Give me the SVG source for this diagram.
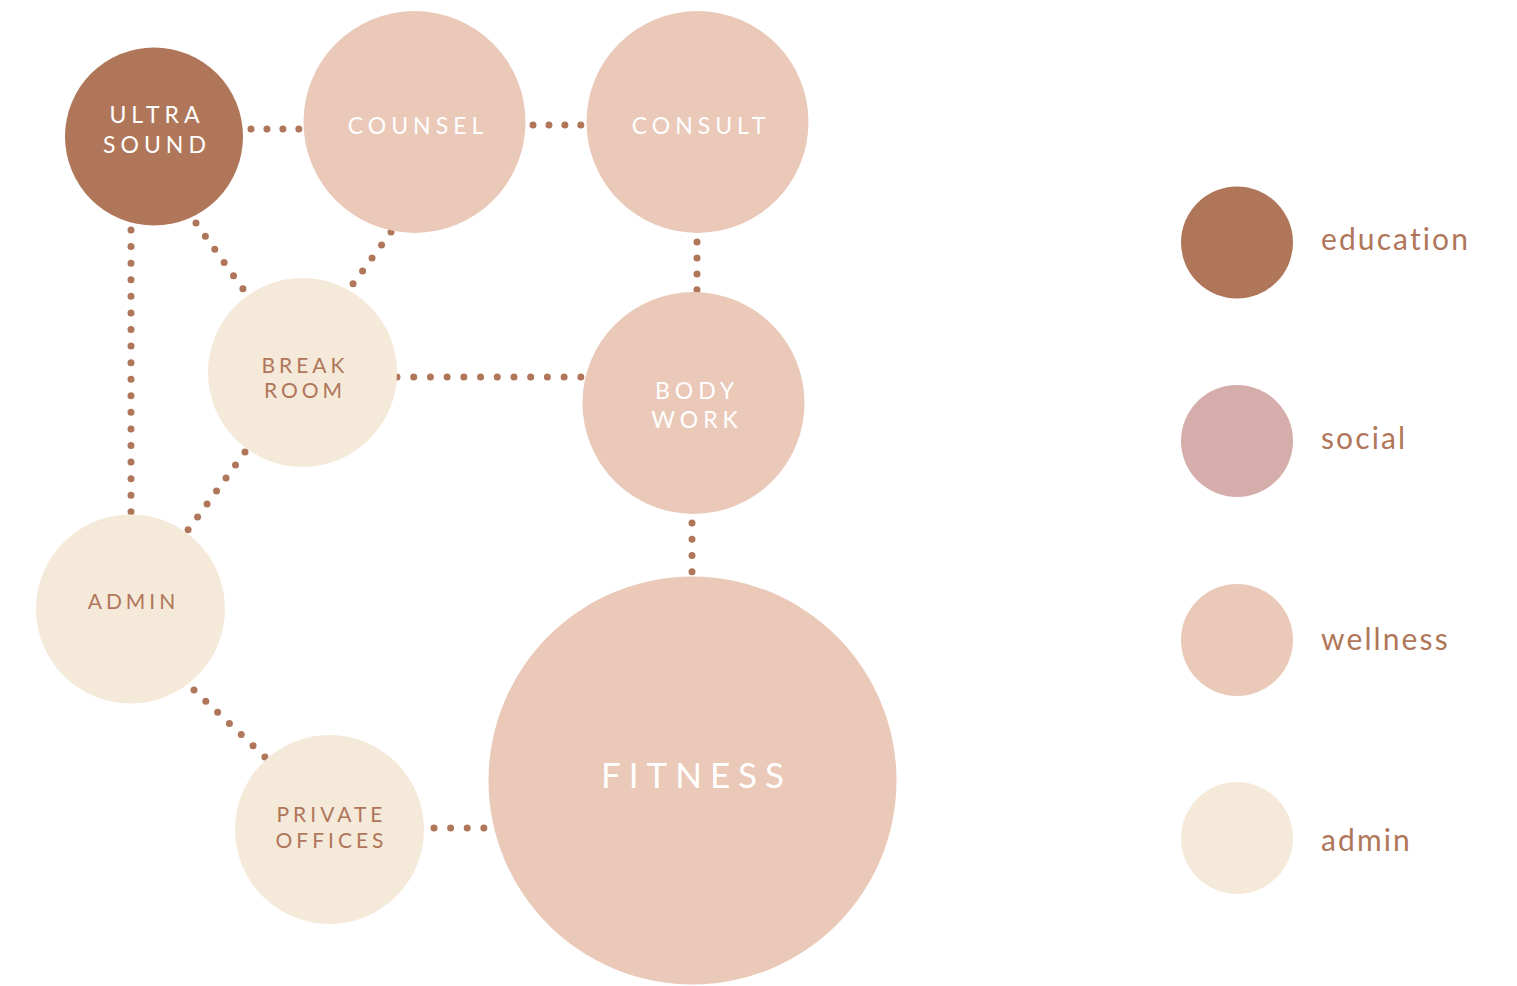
<svg xmlns="http://www.w3.org/2000/svg" width="1517" height="986" viewBox="0 0 1517 986">
<style>
.edu{fill:#B07659}.soc{fill:#D5ADAA}.wel{fill:#EAC9B9}.adm{fill:#F5E9DA}
.dot{fill:none;stroke:#B07659;stroke-width:7;stroke-linecap:round;stroke-dasharray:0 1}
text{font-family:Lato,"Open Sans","Liberation Sans",sans-serif;text-anchor:middle;font-weight:400}
.lw{fill:#FFFFFF;font-size:23px;letter-spacing:5px}
.lb{fill:#B07659;font-size:21px;letter-spacing:4px}
.big{fill:#FFFFFF;font-size:35px;letter-spacing:8px}
.leg{fill:#B07659;font-size:30px;letter-spacing:2.1px;text-anchor:start}
</style>
<rect width="1517" height="986" fill="#FFFFFF"/>
<g id="connectors">
<path class="dot" d="M251 129 L299 129" pathLength="3.01"/>
<path class="dot" d="M533 125 L581 125" pathLength="3.01"/>
<path class="dot" d="M697 242 L697 290" pathLength="3.01"/>
<path class="dot" d="M196 223 L243 289" pathLength="5.01"/>
<path class="dot" d="M391 232 L353 284" pathLength="4.01"/>
<path class="dot" d="M131 230 L131 512" pathLength="17.01"/>
<path class="dot" d="M245 452 L188 530" pathLength="6.01"/>
<path class="dot" d="M397 377 L581 377" pathLength="11.01"/>
<path class="dot" d="M692 523 L692 572" pathLength="3.01"/>
<path class="dot" d="M194 690 L265 757" pathLength="6.01"/>
<path class="dot" d="M434 828 L484 828" pathLength="3.01"/>
</g>
<g id="ultrasound">
<circle class="edu" cx="154" cy="136.5" r="89"/>
<text class="lw" x="157" y="123">ULTRA</text>
<text class="lw" x="157" y="153">SOUND</text>
</g>
<g id="counsel">
<circle class="wel" cx="414.5" cy="122" r="111"/>
<text class="lw" x="418" y="134">COUNSEL</text>
</g>
<g id="consult">
<circle class="wel" cx="697.5" cy="122" r="111"/>
<text class="lw" x="701" y="134">CONSULT</text>
</g>
<g id="breakroom">
<circle class="adm" cx="302.5" cy="372.5" r="94.5"/>
<text class="lb" x="305" y="373">BREAK</text>
<text class="lb" x="305" y="398">ROOM</text>
</g>
<g id="bodywork">
<circle class="wel" cx="693.5" cy="403" r="111"/>
<text class="lw" x="697" y="399">BODY</text>
<text class="lw" x="697" y="428">WORK</text>
</g>
<g id="admin">
<circle class="adm" cx="130.5" cy="609" r="94.5"/>
<text class="lb" x="133.5" y="609">ADMIN</text>
</g>
<g id="privateoffices">
<circle class="adm" cx="329.5" cy="829.5" r="94.5"/>
<text class="lb" x="331.5" y="822">PRIVATE</text>
<text class="lb" x="331.5" y="848">OFFICES</text>
</g>
<g id="fitness">
<circle class="wel" cx="692.5" cy="780.5" r="204"/>
<text class="big" x="696.5" y="788">FITNESS</text>
</g>
<g id="legend">
<g id="legend-education"><circle class="edu" cx="1237" cy="242.5" r="56"/><text class="leg" x="1321" y="250">education</text></g>
<g id="legend-social"><circle class="soc" cx="1237" cy="441" r="56"/><text class="leg" x="1321" y="449">social</text></g>
<g id="legend-wellness"><circle class="wel" cx="1237" cy="640" r="56"/><text class="leg" x="1321" y="650">wellness</text></g>
<g id="legend-admin"><circle class="adm" cx="1237" cy="838" r="56"/><text class="leg" x="1321" y="851">admin</text></g>
</g>
</svg>
